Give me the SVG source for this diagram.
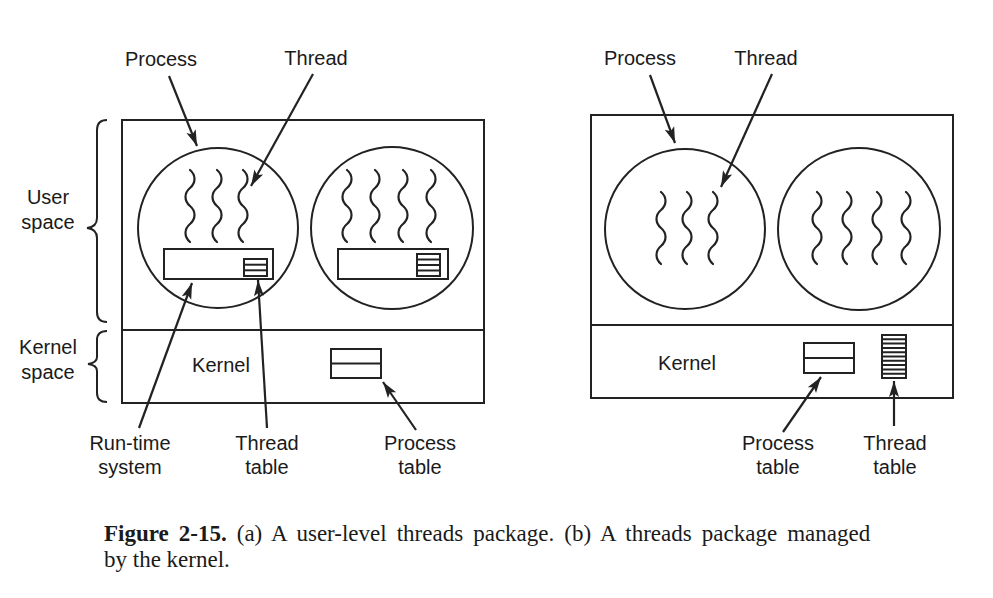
<svg xmlns="http://www.w3.org/2000/svg" width="993" height="598" viewBox="0 0 993 598">
<style>
.ln{fill:none;stroke:#222;stroke-width:2}
.sq{fill:none;stroke:#222;stroke-width:2.2;stroke-linecap:round}
.ar{fill:none;stroke:#222;stroke-width:2.2}
.lb{font-family:"Liberation Sans",Arial,sans-serif;font-size:20px;fill:#1a1a1a;text-anchor:middle}
.cap{font-family:"Liberation Serif","Times New Roman",serif;font-size:23px;fill:#1a1a1a}
</style>
<defs>
<marker id="ah" markerUnits="userSpaceOnUse" markerWidth="20" markerHeight="12" viewBox="-17 -6 19 12" refX="0" refY="0" orient="auto">
<path d="M0,0 L-16,-5 L-12.5,0 L-16,5 z" fill="#222"/>
</marker>
<path id="sq" d="M0,0 c6,5 6,13 0,18 s-6,13 0,18 s6,13 0,18 s-6,13 0,18"/>
</defs>
<rect width="993" height="598" fill="#fff"/>

<g id="panel-a">
<rect class="ln" x="122" y="120" width="362" height="283"/>
<line class="ln" x1="122" y1="330" x2="484" y2="330"/>
</g>
<g id="process-a1">
<circle class="ln" cx="218" cy="228" r="80"/>
<use href="#sq" class="sq" x="190" y="170"/>
<use href="#sq" class="sq" x="217" y="170"/>
<use href="#sq" class="sq" x="243" y="170"/>
<rect class="ln" x="164" y="249" width="109" height="30"/>
<rect class="ln" x="244" y="259" width="23" height="17"/>
<line class="ln" x1="244" y1="264.7" x2="267" y2="264.7"/>
<line class="ln" x1="244" y1="270.3" x2="267" y2="270.3"/>
</g>
<g id="process-a2">
<circle class="ln" cx="392" cy="228" r="81"/>
<use href="#sq" class="sq" x="347" y="170"/>
<use href="#sq" class="sq" x="375" y="170"/>
<use href="#sq" class="sq" x="403" y="170"/>
<use href="#sq" class="sq" x="431" y="170"/>
<rect class="ln" x="338" y="249" width="110" height="30"/>
<rect class="ln" x="417" y="254" width="23" height="22"/>
<line class="ln" x1="417" y1="259.5" x2="440" y2="259.5"/>
<line class="ln" x1="417" y1="265" x2="440" y2="265"/>
<line class="ln" x1="417" y1="270.5" x2="440" y2="270.5"/>
</g>
<g id="kernel-table-a">
<rect class="ln" x="331" y="349" width="50" height="29"/>
<line class="ln" x1="331" y1="363.5" x2="381" y2="363.5"/>
</g>
<g id="braces">
<path class="ln" d="M107,120 Q97,120 97,130 L97,218 Q97,227 87,228 Q97,229 97,238 L97,312 Q97,322 107,322" stroke-width="1.5"/>
<path class="ln" d="M107,331 Q97,331 97,340 L97,357 Q97,363 88,364 Q97,365 97,371 L97,393 Q97,402 107,402" stroke-width="1.5"/>
</g>

<g id="panel-b">
<rect class="ln" x="591" y="115" width="362" height="283"/>
<line class="ln" x1="591" y1="325" x2="953" y2="325"/>
</g>
<g id="process-b1">
<circle class="ln" cx="685" cy="229" r="80"/>
<use href="#sq" class="sq" x="661" y="192"/>
<use href="#sq" class="sq" x="687" y="192"/>
<use href="#sq" class="sq" x="713" y="192"/>
</g>
<g id="process-b2">
<circle class="ln" cx="859" cy="229" r="81"/>
<use href="#sq" class="sq" x="817" y="192"/>
<use href="#sq" class="sq" x="847" y="192"/>
<use href="#sq" class="sq" x="877" y="192"/>
<use href="#sq" class="sq" x="906" y="192"/>
</g>
<g id="kernel-tables-b">
<rect class="ln" x="804" y="343" width="50" height="30"/>
<line class="ln" x1="804" y1="358" x2="854" y2="358"/>
<rect class="ln" x="882" y="335" width="24" height="43"/>
<path class="ln" stroke-width="1.6" d="M882,339.3H906M882,343.6H906M882,347.9H906M882,352.2H906M882,356.5H906M882,360.8H906M882,365.1H906M882,369.4H906M882,373.7H906"/>
</g>

<g id="connectors">
<line class="ar" x1="169" y1="76" x2="197" y2="146" marker-end="url(#ah)"/>
<line class="ar" x1="313" y1="74" x2="251" y2="186" marker-end="url(#ah)"/>
<line class="ar" x1="139" y1="428" x2="192" y2="283" marker-end="url(#ah)"/>
<line class="ar" x1="267" y1="428" x2="258" y2="280" marker-end="url(#ah)"/>
<line class="ar" x1="416" y1="430" x2="383" y2="382" marker-end="url(#ah)"/>
<line class="ar" x1="650" y1="75" x2="675" y2="143" marker-end="url(#ah)"/>
<line class="ar" x1="772" y1="74" x2="721" y2="187" marker-end="url(#ah)"/>
<line class="ar" x1="783" y1="432" x2="821" y2="377" marker-end="url(#ah)"/>
<line class="ar" x1="894" y1="426" x2="894" y2="381" marker-end="url(#ah)"/>
</g>

<g id="labels">
<text class="lb" x="161" y="66">Process</text>
<text class="lb" x="316" y="65">Thread</text>
<text class="lb" x="48" y="204">User</text>
<text class="lb" x="48" y="229">space</text>
<text class="lb" x="48" y="354">Kernel</text>
<text class="lb" x="48" y="379">space</text>
<text class="lb" x="221" y="372">Kernel</text>
<text class="lb" x="130" y="450">Run-time</text>
<text class="lb" x="130" y="474">system</text>
<text class="lb" x="267" y="450">Thread</text>
<text class="lb" x="267" y="474">table</text>
<text class="lb" x="420" y="450">Process</text>
<text class="lb" x="420" y="474">table</text>
<text class="lb" x="640" y="65">Process</text>
<text class="lb" x="766" y="65">Thread</text>
<text class="lb" x="687" y="370">Kernel</text>
<text class="lb" x="778" y="450">Process</text>
<text class="lb" x="778" y="474">table</text>
<text class="lb" x="895" y="450">Thread</text>
<text class="lb" x="895" y="474">table</text>
</g>

<g id="caption">
<text class="cap" x="104" y="541" word-spacing="4.3"><tspan font-weight="bold">Figure 2-15.</tspan> (a) A user-level threads package. (b) A threads package managed</text>
<text class="cap" x="104" y="567">by the kernel.</text>
</g>
</svg>
